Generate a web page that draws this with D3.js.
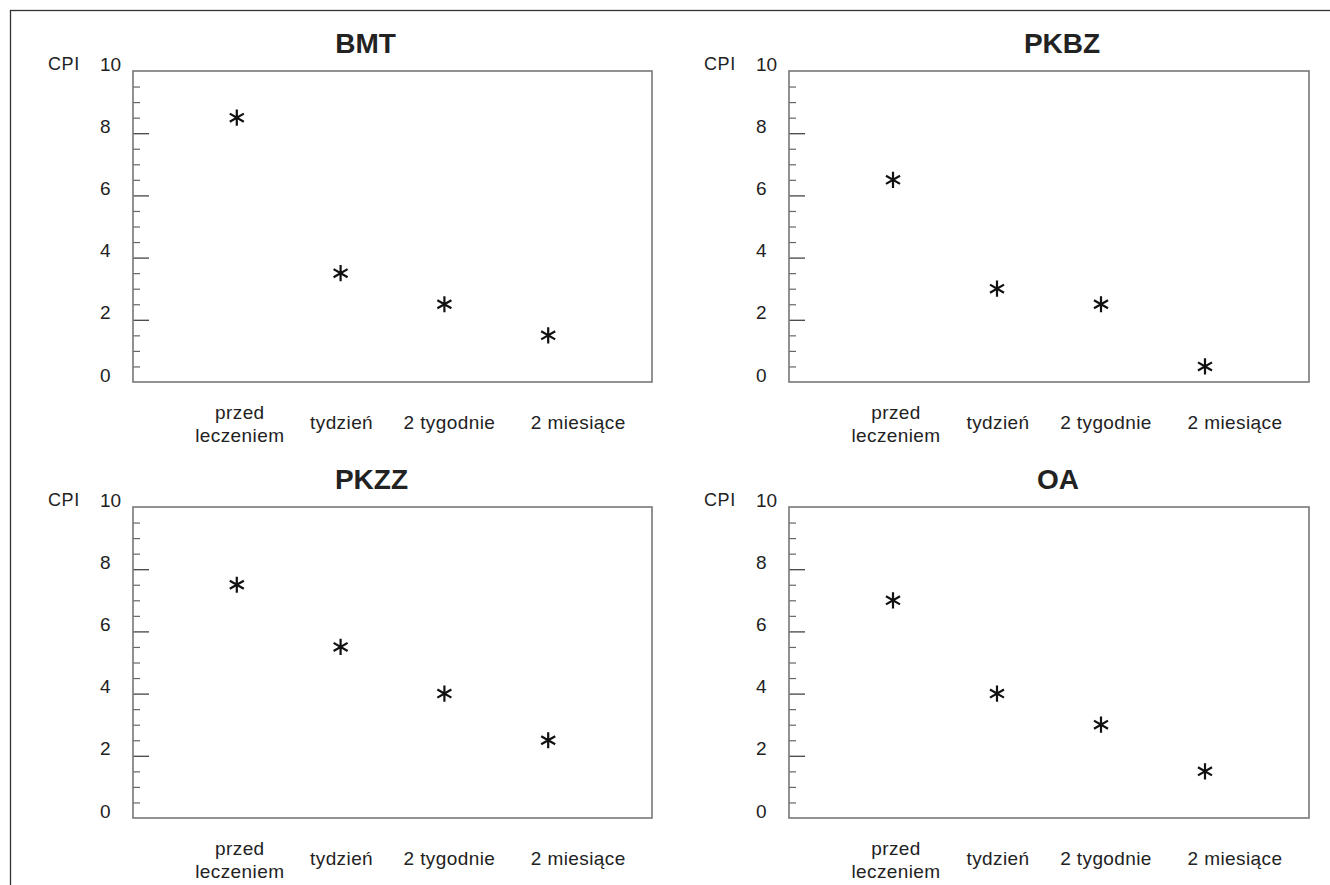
<!DOCTYPE html>
<html lang="pl">
<head>
  <meta charset="UTF-8">
  <title>CPI</title>
  <style>
    body { margin: 0; background: #fff; }
    text { font-family: "Liberation Sans", Arial, sans-serif; fill: #222; }
  </style>
</head>
<body>
  <div id="chart"></div>

  <script src="https://d3js.org/d3.v7.min.js"></script>
  <script>
    // data
    const categories = ['przed leczeniem', 'tydzień', '2 tygodnie', '2 miesiące'];
    const panelNames = ['BMT', 'PKBZ', 'PKZZ', 'OA'];
    const bmt  = [8.5, 3.5, 2.5, 1.5];
    const pkbz = [6.5, 3.0, 2.5, 0.5];
    const pkzz = [7.5, 5.5, 4.0, 2.5];
    const oa   = [7.0, 4.0, 3.0, 1.5];
    const yTickLabels = [0, 2, 4, 6, 8, 10];
    const yLabel = 'CPI';

    const seriesList = [bmt, pkbz, pkzz, oa];

    const width = 1330;
    const height = 885;

    // frames of the four panels
    const panels = [
      { x: 133, y: 71,  w: 519, h: 311, titleDx: -27 },
      { x: 789, y: 71,  w: 520, h: 311, titleDx: 13 },
      { x: 133, y: 507, w: 519, h: 311, titleDx: -21 },
      { x: 789, y: 507, w: 520, h: 311, titleDx: 9 }
    ];
    const labelShift = [3, 1, 5, 30];

    const svg = d3.select('#chart')
      .append('svg')
      .attr('width', width)
      .attr('height', height);

    // outer frame (only top and left edges are in view)
    svg.append('rect')
      .attr('x', 10.5).attr('y', 10.5)
      .attr('width', width).attr('height', height)
      .attr('fill', 'none')
      .attr('stroke', '#333')
      .attr('stroke-width', 1.3);

    const majorVals = [2, 4, 6, 8];
    const minorVals = d3.range(0.5, 10, 0.5).filter(v => v % 2 !== 0);

    panels.forEach((p, i) => {
      const values = seriesList[i];
      const g = svg.append('g').attr('transform', `translate(${p.x},${p.y})`);

      const x = d3.scalePoint().domain(categories).range([0, p.w]).padding(1);
      const y = d3.scaleLinear().domain([0, 10]).range([p.h, 0]);

      // tick marks point inward from the left edge
      g.append('g')
        .attr('class', 'minor')
        .call(d3.axisRight(y).tickValues(minorVals).tickSize(7).tickFormat(''))
        .call(a => a.select('.domain').remove())
        .call(a => a.selectAll('line').attr('stroke', '#666').attr('stroke-width', 1.2));

      g.append('g')
        .attr('class', 'major')
        .call(d3.axisRight(y).tickValues(majorVals).tickSize(16).tickFormat(''))
        .call(a => a.select('.domain').remove())
        .call(a => a.selectAll('line').attr('stroke', '#444').attr('stroke-width', 1.3));

      g.append('rect')
        .attr('width', p.w)
        .attr('height', p.h)
        .attr('fill', 'none')
        .attr('stroke', '#777')
        .attr('stroke-width', 1.6);

      // y labels, left aligned
      g.selectAll('.ylab')
        .data(yTickLabels)
        .enter()
        .append('text')
        .attr('class', 'ylab')
        .attr('x', -33)
        .attr('y', d => y(d) - 7)
        .attr('dy', '0.35em')
        .style('font-size', '19px')
        .text(d => d);

      g.append('text')
        .attr('x', -85)
        .attr('y', y(10) - 7)
        .attr('dy', '0.35em')
        .style('font-size', '18px')
        .style('letter-spacing', '0.6px')
        .text(yLabel);

      g.append('text')
        .attr('x', p.w / 2 + p.titleDx)
        .attr('y', -18)
        .attr('text-anchor', 'middle')
        .style('font-size', '28px')
        .style('font-weight', 'bold')
        .text(panelNames[i]);

      // category labels
      categories.forEach((c, k) => {
        const words = c === 'przed leczeniem' ? ['przed', 'leczeniem'] : [c];
        const t = g.append('text')
          .attr('text-anchor', 'middle')
          .style('font-size', '19px')
          .style('letter-spacing', '0.4px');
        words.forEach((w, j) => {
          const cy = words.length === 1 ? 40 : 30 + j * 23;
          t.append('tspan')
            .attr('x', x(c) + labelShift[k])
            .attr('y', p.h + cy)
            .attr('dy', '0.35em')
            .text(w);
        });
      });

      // asterisk markers
      g.selectAll('.pt')
        .data(values)
        .enter()
        .append('path')
        .attr('class', 'pt')
        .attr('d', d3.symbol(d3.symbolAsterisk, 185))
        .attr('transform', (d, k) => `translate(${x(categories[k])},${y(d)})`)
        .attr('fill', 'none')
        .attr('stroke', '#111')
        .attr('stroke-width', 2.2);
    });
  </script>
</body>
</html>
